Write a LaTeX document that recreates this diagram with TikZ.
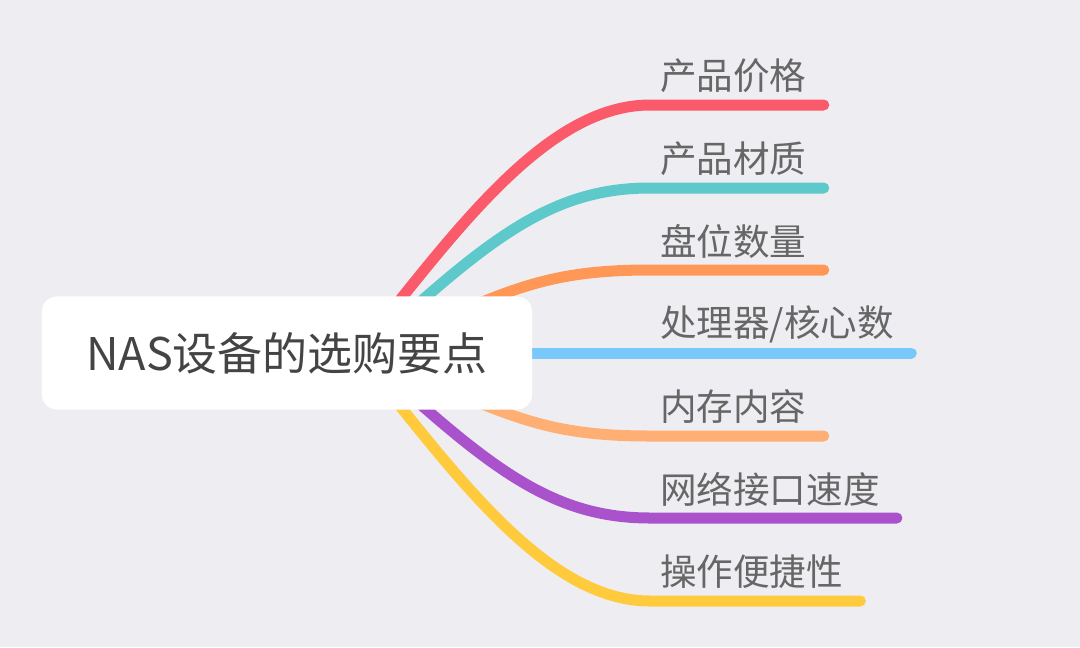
\documentclass[tikz,border=0pt]{standalone}
\usepackage{fontspec}
\setmainfont{Noto Sans CJK SC}
\usetikzlibrary{positioning, backgrounds, calc}
\usepackage{xcolor}
\definecolor{bgcol}{HTML}{EEEEF2}
\definecolor{roottext}{HTML}{444444}
\definecolor{leaftext}{HTML}{666666}
\definecolor{pricecol}{HTML}{FA5A6A}
\definecolor{materialcol}{HTML}{5EC9CA}
\definecolor{baycol}{HTML}{FF9757}
\definecolor{cpucol}{HTML}{78C9FA}
\definecolor{memcol}{HTML}{FFAF73}
\definecolor{netcol}{HTML}{AA52CC}
\definecolor{usecol}{HTML}{FFCB3C}
\tikzset{
  root/.style   = {fill=white, rounded corners=0.375cm, minimum width=12.25cm,
                   minimum height=2.825cm, text=roottext,
                   font=\fontsize{32}{36}\selectfont},
  leaf/.style   = {anchor=west, inner sep=0pt, text=leaftext,
                   font=\fontsize{26}{30}\selectfont},
  branch/.style = {line width=0.275cm, line cap=round, draw=#1},
}

\begin{document}
\begin{tikzpicture}[x=0.025cm, y=-0.025cm]
  \useasboundingbox (0,0) rectangle (1080,647);
  \node[root] (root) at (287,353) {NAS设备的选购要点};

  % where each underline begins
  \coordinate (u1) at (650,105);
  \coordinate (u2) at (650,188);
  \coordinate (u3) at (650,270);
  \coordinate (u4) at (650,353);
  \coordinate (u5) at (650,436);
  \coordinate (u6) at (650,518);
  \coordinate (u7) at (650,601);

  \node[leaf] (price)    at ([shift={(10,-29)}]u1) {产品价格};
  \node[leaf] (material) at ([shift={(10,-29)}]u2) {产品材质};
  \node[leaf] (bays)     at ([shift={(10,-29)}]u3) {盘位数量};
  \node[leaf] (cpu)      at ([shift={(10,-29)}]u4) {处理器/核心数};
  \node[leaf] (memory)   at ([shift={(10,-29)}]u5) {内存内容};
  \node[leaf] (network)  at ([shift={(10,-29)}]u6) {网络接口速度};
  \node[leaf] (usage)    at ([shift={(10,-29)}]u7) {操作便捷性};

  \begin{scope}[on background layer]
    \fill[bgcol] (0,0) rectangle (1080,647);
    \draw[branch=pricecol] ([shift={(113,-53)}]root.center)
      .. controls +(80,-100) and +(-90,0) .. (u1) -- ($(price.east |- u1)+(17,0)$);
    \draw[branch=materialcol] ([shift={(113,-33)}]root.center)
      .. controls +(100,-90) and +(-90,0) .. (u2) -- ($(material.east |- u2)+(17,0)$);
    \draw[branch=baycol] ([shift={(153,-33)}]root.center)
      .. controls +(80,-35) and +(-90,0) .. (u3) -- ($(bays.east |- u3)+(17,0)$);
    \draw[branch=cpucol] (root.center) -- (u4) -- ($(cpu.east |- u4)+(17,0)$);
    \draw[branch=memcol] ([shift={(153,33)}]root.center)
      .. controls +(80,35) and +(-90,0) .. (u5) -- ($(memory.east |- u5)+(17,0)$);
    \draw[branch=netcol] ([shift={(113,33)}]root.center)
      .. controls +(100,90) and +(-90,0) .. (u6) -- ($(network.east |- u6)+(17,0)$);
    \draw[branch=usecol] ([shift={(113,53)}]root.center)
      .. controls +(80,100) and +(-90,0) .. (u7) -- ($(usage.east |- u7)+(17,0)$);
  \end{scope}
\end{tikzpicture}
\end{document}
